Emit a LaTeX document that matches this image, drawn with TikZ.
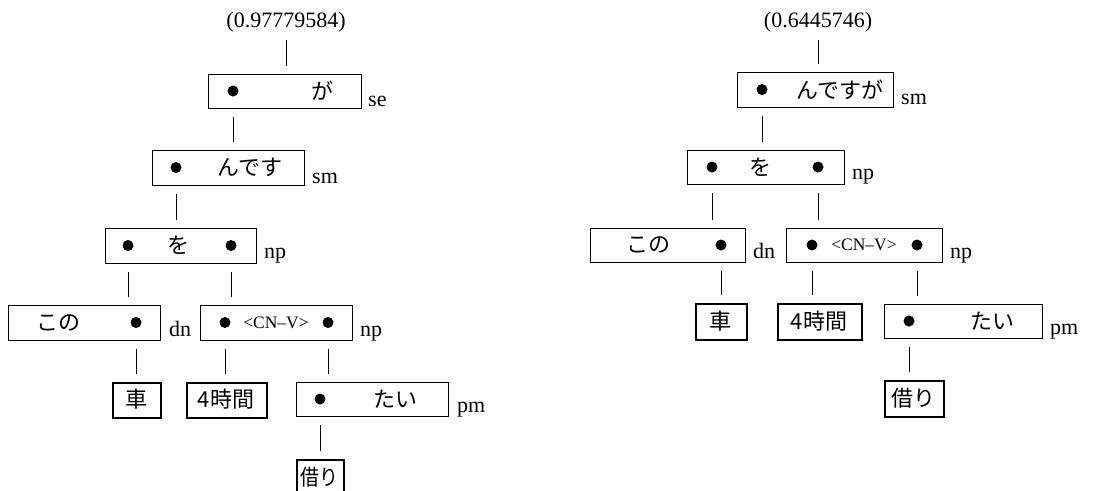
\documentclass[tikz,border=0pt]{standalone}
\usepackage{fontspec}
\setmainfont{Liberation Serif}
\newfontfamily\jp{Noto Sans CJK JP}
\begin{document}
\begin{tikzpicture}[x=1pt,y=-1pt,
 box/.style={draw, line width=0.8pt, inner sep=0pt, anchor=north west},
 leaf/.style={draw, line width=1.6pt, inner sep=0pt, anchor=north west},
 dotn/.style={circle, fill, inner sep=0pt, minimum size=11pt},
 jt/.style={font=\jp\fontsize{22}{22}\selectfont, inner sep=0pt},
 lab/.style={font=\fontsize{22}{22}\selectfont, anchor=base west, inner sep=0pt},
 score/.style={font=\fontsize{22}{22}\selectfont, inner sep=0pt},
 cn/.style={font=\fontsize{17.5}{17.5}\selectfont, inner sep=0pt},
 edge/.style={line width=0.8pt, shorten <=8pt, shorten >=8pt}]
\useasboundingbox (0,0) rectangle (1107,490);
\clip (0,0) rectangle (1107,490);

% ---------------- left tree ----------------
\node[score] (ls) at (286,22) {(0.97779584)};

\node[box, minimum width=153pt, minimum height=34pt] (l1) at (208,74) {};
\node[dotn] (l1d) at (233,91) {};
\node[jt] (l1t) at (322,91) {が};
\node[lab] (l1l) at (368,106) {se};

\node[box, minimum width=152pt, minimum height=35pt] (l2) at (152,150) {};
\node[dotn] (l2d) at (176,167.5) {};
\node[jt] (l2t) at (250,167.5) {んです};
\node[lab] (l2l) at (312,183) {sm};

\node[box, minimum width=151pt, minimum height=35pt] (l3) at (105,228) {};
\node[dotn] (l3d1) at (128,245.5) {};
\node[dotn] (l3d2) at (231,245.5) {};
\node[jt] (l3t) at (178,245.5) {を};
\node[lab] (l3l) at (264,258) {np};

\node[box, minimum width=152pt, minimum height=35pt] (l4a) at (8,305) {};
\node[jt] (l4at) at (58,322.5) {この};
\node[dotn] (l4ad) at (136,322.5) {};
\node[lab] (l4al) at (169,336) {dn};

\node[box, minimum width=152pt, minimum height=35pt] (l4b) at (200,305) {};
\node[dotn] (l4bd1) at (225,322.5) {};
\node[dotn] (l4bd2) at (328,322.5) {};
\node[cn] (l4bt) at (276,322.5) {<CN--V>};
\node[lab] (l4bl) at (360,336) {np};

\node[leaf, minimum width=48pt, minimum height=35pt] (l5a) at (112,382) {};
\node[jt] (l5at) at (136,399.5) {車};

\node[leaf, minimum width=80pt, minimum height=35pt] (l5b) at (186,382) {};
\node[jt] (l5bt) at (226,399.5) {4時間};

\node[box, minimum width=152pt, minimum height=34pt] (l5c) at (296,382) {};
\node[dotn] (l5cd) at (320,399) {};
\node[jt] (l5ct) at (395,399) {たい};
\node[lab] (l5cl) at (457,412) {pm};

\node[leaf, minimum width=47pt, minimum height=36pt] (l6) at (296,459) {};
\node[jt] (l6t) at (319.5,477) {\scalebox{0.86}[1]{借り}};

\draw[edge] (ls.south) -- (ls.south |- l1.north);
\draw[edge] (l1d |- l1.south) -- (l1d |- l2.north);
\draw[edge] (l2d |- l2.south) -- (l2d |- l3.north);
\draw[edge] (l3d1 |- l3.south) -- (l3d1 |- l4a.north);
\draw[edge] (l3d2 |- l3.south) -- (l3d2 |- l4b.north);
\draw[edge] (l4ad |- l4a.south) -- (l4ad |- l5a.north);
\draw[edge] (l4bd1 |- l4b.south) -- (l4bd1 |- l5b.north);
\draw[edge] (l4bd2 |- l4b.south) -- (l4bd2 |- l5c.north);
\draw[edge] (l5cd |- l5c.south) -- (l5cd |- l6.north);

% ---------------- right tree ----------------
\node[score] (rs) at (818,22) {(0.6445746)};

\node[box, minimum width=156pt, minimum height=35pt] (r1) at (737,72) {};
\node[dotn] (r1d) at (762,89.5) {};
\node[jt] (r1t) at (840,89.5) {んですが};
\node[lab] (r1l) at (901,104) {sm};

\node[box, minimum width=157pt, minimum height=34pt] (r2) at (687,150) {};
\node[dotn] (r2d1) at (712,167) {};
\node[dotn] (r2d2) at (818,167) {};
\node[jt] (r2t) at (760,167) {を};
\node[lab] (r2l) at (852,179) {np};

\node[box, minimum width=155pt, minimum height=34pt] (r3a) at (590,228) {};
\node[jt] (r3at) at (648,245) {この};
\node[dotn] (r3ad) at (721,245) {};
\node[lab] (r3al) at (753,258) {dn};

\node[box, minimum width=156pt, minimum height=34pt] (r3b) at (786,228) {};
\node[dotn] (r3bd1) at (812,245) {};
\node[dotn] (r3bd2) at (917,245) {};
\node[cn] (r3bt) at (864,245) {<CN--V>};
\node[lab] (r3bl) at (950,258) {np};

\node[leaf, minimum width=51pt, minimum height=36pt] (r4a) at (695,303) {};
\node[jt] (r4at) at (720.5,321) {車};

\node[leaf, minimum width=84pt, minimum height=36pt] (r4b) at (777,303) {};
\node[jt] (r4bt) at (819,321) {4時間};

\node[box, minimum width=158pt, minimum height=34pt] (r4c) at (884,304) {};
\node[dotn] (r4cd) at (909,321) {};
\node[jt] (r4ct) at (992,321) {たい};
\node[lab] (r4cl) at (1050,334) {pm};

\node[leaf, minimum width=59pt, minimum height=36pt] (r5) at (884,380) {};
\node[jt] (r5t) at (913.5,398) {借り};

\draw[edge] (rs.south) -- (rs.south |- r1.north);
\draw[edge] (r1d |- r1.south) -- (r1d |- r2.north);
\draw[edge] (r2d1 |- r2.south) -- (r2d1 |- r3a.north);
\draw[edge] (r2d2 |- r2.south) -- (r2d2 |- r3b.north);
\draw[edge] (r3ad |- r3a.south) -- (r3ad |- r4a.north);
\draw[edge] (r3bd1 |- r3b.south) -- (r3bd1 |- r4b.north);
\draw[edge] (r3bd2 |- r3b.south) -- (r3bd2 |- r4c.north);
\draw[edge] (r4cd |- r4c.south) -- (r4cd |- r5.north);
\end{tikzpicture}
\end{document}
